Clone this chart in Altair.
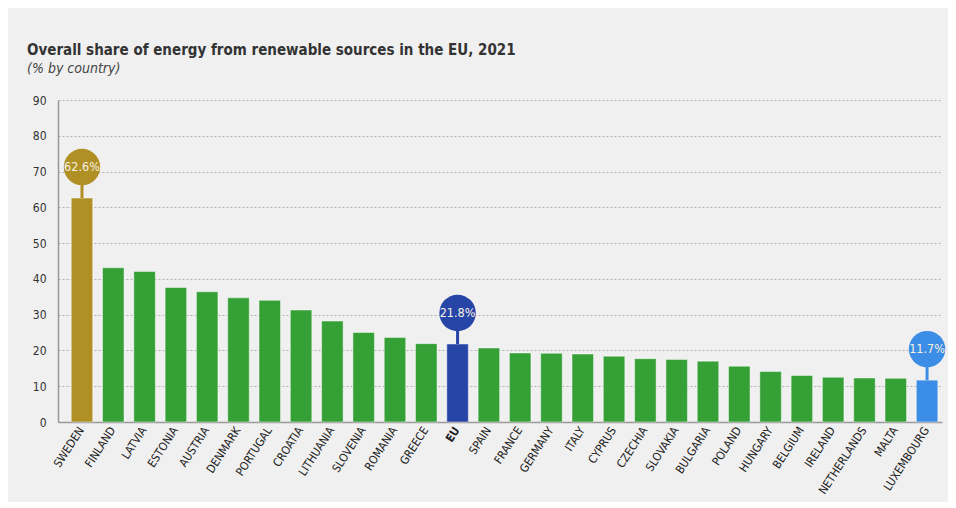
import altair as alt
import pandas as pd

countries = ["SWEDEN", "FINLAND", "LATVIA", "ESTONIA", "AUSTRIA", "DENMARK", "PORTUGAL",
             "CROATIA", "LITHUANIA", "SLOVENIA", "ROMANIA", "GREECE", "EU", "SPAIN",
             "FRANCE", "GERMANY", "ITALY", "CYPRUS", "CZECHIA", "SLOVAKIA", "BULGARIA",
             "POLAND", "HUNGARY", "BELGIUM", "IRELAND", "NETHERLANDS", "MALTA", "LUXEMBOURG"]
values = [62.6, 43.1, 42.1, 37.6, 36.4, 34.7, 34.0, 31.3, 28.2, 25.0, 23.6, 21.9, 21.8, 20.7,
          19.3, 19.2, 19.0, 18.4, 17.7, 17.5, 17.0, 15.6, 14.1, 13.0, 12.5, 12.3, 12.2, 11.7]
groups = ["highest"] + ["country"] * 11 + ["eu"] + ["country"] * 14 + ["lowest"]

group_domain = ["highest", "country", "eu", "lowest"]
group_colors = ["#b08f25", "#35a036", "#2744a7", "#3b8de5"]

y_ticks = [0, 10, 20, 30, 40, 50, 60, 70, 80, 90]

FONT = "DejaVu Sans Condensed, Roboto, sans-serif"

df = pd.DataFrame({"country": countries, "value": values, "group": groups})
df["label"] = [f"{v}%" for v in values]

x = alt.X("country:N", sort=countries,
          scale=alt.Scale(paddingInner=0.313, paddingOuter=0.278, align=0.76),
          axis=alt.Axis(title=None, labelAngle=-57, labelAlign="right", labelBaseline="middle",
                        labelFontSize=11.5, labelFont=FONT, labelColor="#222",
                        labelFontWeight={"expr": "datum.value == 'EU' ? 'bold' : 'normal'"},
                        ticks=False, domainColor="#999", domainWidth=1.5, labelPadding=6))
y = alt.Y("value:Q", scale=alt.Scale(domain=[0, 90], nice=False),
          axis=alt.Axis(title=None, values=y_ticks, tickCount=20, labelOverlap=False,
                        grid=True, gridColor="#b0b0b0",
                        gridDash=[2, 2], gridWidth=1, ticks=False, domainColor="#999",
                        domainWidth=1.5, labelFont=FONT, labelFontSize=12,
                        labelColor="#333", labelPadding=12))
color = alt.Color("group:N", scale=alt.Scale(domain=group_domain, range=group_colors), legend=None)

base = alt.Chart(df)

bars = base.mark_bar(stroke="#ffffff", strokeOpacity=0.45, strokeWidth=1).encode(x=x, y=y, color=color)

hl = base.transform_filter("datum.group != 'country'")

stems = hl.transform_calculate(top="datum.value + 5").mark_rule(strokeWidth=3).encode(
    x=x, y=y, y2="top:Q", color=color)

circles = hl.mark_point(shape="circle", filled=True, opacity=1, size=1330, yOffset=-31).encode(
    x=x, y=y, color=color)

texts = hl.mark_text(yOffset=-31, font=FONT, fontSize=12.5, color="#f7f2e4", baseline="middle").encode(
    x=x, y=y, text="label:N")

chart = alt.layer(bars, stems, circles, texts).properties(
    width=884, height=322,
    autosize=alt.AutoSizeParams(type="none"),
    padding={"left": 50, "top": 92, "right": 6, "bottom": 80},
    background="#f0f0f0",
    title=alt.TitleParams(
        text="Overall share of energy from renewable sources in the EU, 2021",
        subtitle="(% by country)",
        anchor="start", frame="group", dx=-31,
        font=FONT, fontSize=15, fontWeight="bold", color="#333",
        subtitleFont=FONT, subtitleFontSize=14, subtitleFontStyle="italic",
        subtitleColor="#444", subtitlePadding=4, offset=18),
).configure_view(stroke=None)

chart.save("out.html", embed_options={"renderer": "svg", "actions": False})
